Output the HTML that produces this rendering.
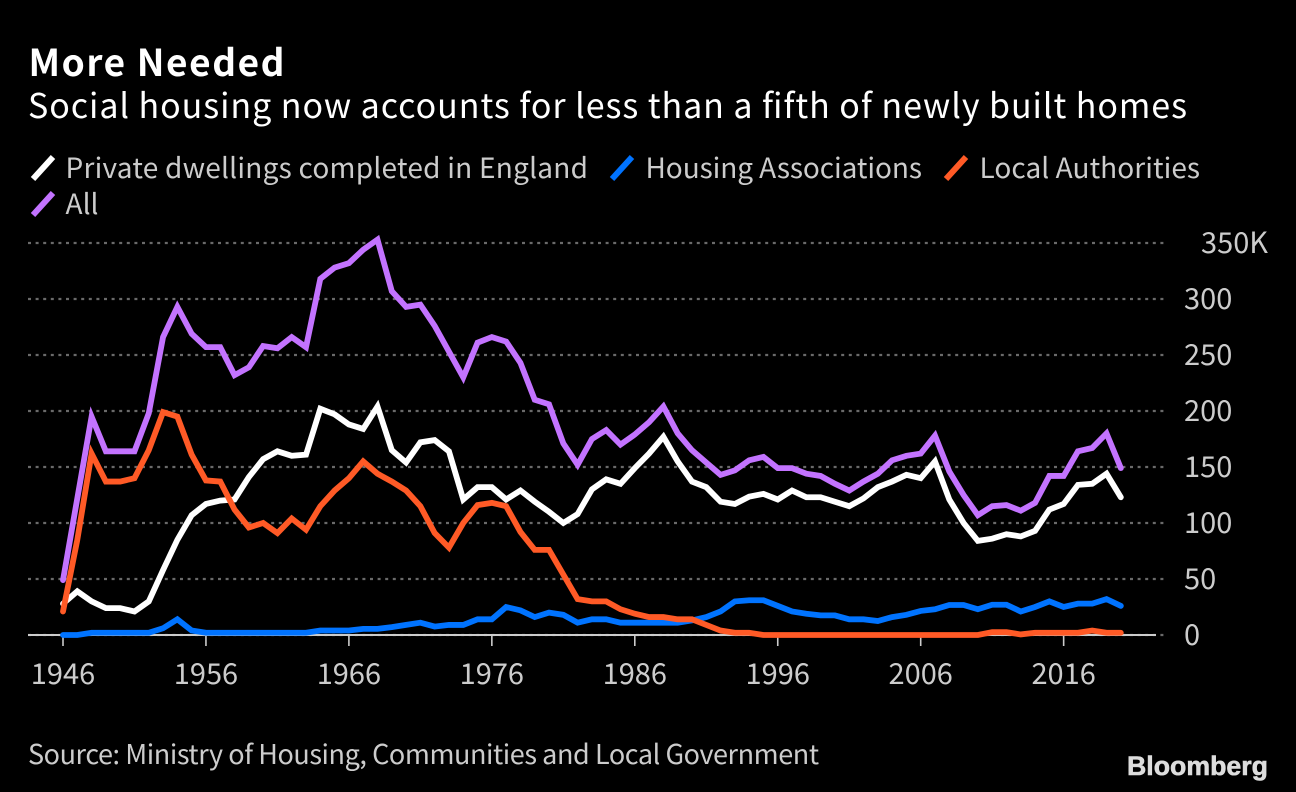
<!DOCTYPE html>
<html lang="en">
<head>
<meta charset="utf-8">
<title>More Needed</title>
<style>
html,body{margin:0;padding:0;background:#000;}
svg{display:block;}
text{font-family:"Noto Sans CJK JP","Liberation Sans",sans-serif;}
</style>
</head>
<body>
<svg id="chart" xmlns="http://www.w3.org/2000/svg" width="1296" height="792" viewBox="0 0 1296 792">
  <rect width="1296" height="792" fill="#000"/>
  <text x="28.5" y="76" font-size="37" font-weight="700" fill="#fff" textLength="256" lengthAdjust="spacing">More Needed</text>
  <text x="28" y="118" font-size="34" fill="#fff" textLength="1159" lengthAdjust="spacing">Social housing now accounts for less than a fifth of newly built homes</text>

  <g>
    <g>
      <line x1="33" y1="179" x2="53" y2="157" stroke="#fff" stroke-width="6"/>
      <text x="65.5" y="178" font-size="28" fill="#ccc" textLength="522.5" lengthAdjust="spacing">Private dwellings completed in England</text>
    </g>
    <g>
      <line x1="612" y1="179" x2="632" y2="157" stroke="#0073ff" stroke-width="6"/>
      <text x="645.5" y="178" font-size="28" fill="#ccc" textLength="276.5" lengthAdjust="spacing">Housing Associations</text>
    </g>
    <g>
      <line x1="946" y1="179" x2="966" y2="157" stroke="#ff5a26" stroke-width="6"/>
      <text x="979.5" y="178" font-size="28" fill="#ccc" textLength="220.5" lengthAdjust="spacing">Local Authorities</text>
    </g>
    <g>
      <line x1="33" y1="215" x2="53" y2="193" stroke="#c373ff" stroke-width="6"/>
      <text x="65.5" y="214" font-size="28" fill="#ccc" textLength="33" lengthAdjust="spacing">All</text>
    </g>
  </g>

  <g id="grid"></g>
  <g id="xaxis"></g>
  <g id="yaxis"></g>
  <g id="series"></g>

  <text x="28" y="764" font-size="27" fill="#ccc" textLength="791" lengthAdjust="spacing">Source: Ministry of Housing, Communities and Local Government</text>
  <text x="1127" y="775" font-size="27" font-weight="700" fill="#ddd" stroke="#ddd" stroke-width="0.6" textLength="141" lengthAdjust="spacingAndGlyphs" style="font-family:'Liberation Sans',sans-serif">Bloomberg</text>
</svg>

<script>
const firstYear = 1946;
const privateHomes = [28,39,30,24,24,21,30,58,85,107,117,120,121,141,157,164,160,161,202,197,188,184,204,165,154,172,174,164,121,132,132,121,129,119,110,100,108,130,139,135,149,162,177,155,137,132,119,117,123.5,126,121,129,123,123,119,115,122,132,137,143,140,155,121,100,84,86,90,88,93,112,117,134,135,144,123];
const housingAssociations = [0,0,2,2,2,2,2,6,14,4,2,2,2,2,2,2,2,2,4,4,4,5.5,5.5,7,9,11,7.5,9,9,14,14,25,22,16,20,18,11,14,14,11,11,11,11,11,13,16,21,30,31,31,26,21,19,17.5,17.5,14,14,12.5,16,18,21.5,23,26.8,26.8,23,27,27,21,25,30,25,28,28,32,26];
const localAuthorities = [21,85,162,137,137,140,165,199,195,161,138,137,112,96,100,91,104,94,115,129,140,155,144,137,129,115,91,78,100,116,118,115,92,76,76,54,32,30,30,23,19,16,16,14,14,9,4,2,2,0,0,0,0,0,0,0,0,0,0,0,0,0,0,0,0,2.5,2.5,0.5,2,2,2,2,4,2,2];
const allHomes = [49,122,195,164,164,164,198,266,293,269,257,257,232,239,258,256,266,257,318,328,332,344,353,307,293,295,276,253,230,261,266,262,243,210,206,171,152,175,183,170,179,190,204,180,165,154,143,147,156,159,149,149,144,142,135,129,137,144,156,160,162,178,146,125,107,115,116,111,118,142,142,164,167,180,149];
const yTicks = [0,50,100,150,200,250,300,350];
const yTickLabels = ["0","50","100","150","200","250","300","350K"];
const xTicks = [1946,1956,1966,1976,1986,1996,2006,2016];

const NS = "http://www.w3.org/2000/svg";
function xScale(year){ return 63 + (year - 1946) * 14.295; }
function yScale(value){ return 635 - value * 1.12; }
function make(tag, attrs, parent){
  const el = document.createElementNS(NS, tag);
  for (const k in attrs) el.setAttribute(k, attrs[k]);
  parent.appendChild(el);
  return el;
}

const grid = document.getElementById("grid");
const yaxis = document.getElementById("yaxis");
yTicks.forEach(function(t, i){
  const line = make("line", {x1:28, x2:1166, y1:yScale(t), y2:yScale(t), stroke:"#6a6a6a", "stroke-width":2.2, "stroke-dasharray":"3 4.6"}, grid);
  
  
  const label = make("text", {x: i === yTicks.length - 1 ? 1201 : 1184, y: yScale(t) + 10, "font-size":29, fill:"#ccc"}, yaxis);
  label.textContent = yTickLabels[i];
  
  
});

const xaxis = document.getElementById("xaxis");
const baseline = make("line", {x1:28, x2:1156, y1:yScale(0), y2:yScale(0), stroke:"#ccc", "stroke-width":2}, xaxis);


xTicks.forEach(function(y){
  const tick = make("line", {x1:xScale(y), x2:xScale(y), y1:yScale(0), y2:646, stroke:"#ccc", "stroke-width":1.6}, xaxis);
  
  
  const label = make("text", {x:xScale(y), y:684, "font-size":29, fill:"#ccc", "text-anchor":"middle"}, xaxis);
  label.textContent = String(y);
  
  
});

const seriesGroup = document.getElementById("series");
function drawSeries(values, colour, name){
  const d = values.map(function(v, i){
    return (i ? "L" : "M") + xScale(firstYear + i).toFixed(2) + " " + yScale(v).toFixed(2);
  }).join(" ");
  const path = make("path", {d:d, fill:"none", stroke:colour, "stroke-width":5.8, "stroke-linejoin":"miter", "stroke-miterlimit":4, "stroke-linecap":"round"}, seriesGroup);
  
  
}
drawSeries(privateHomes, "#ffffff", "line-private-dwellings");
drawSeries(housingAssociations, "#0073ff", "line-housing-associations");
drawSeries(localAuthorities, "#ff5a26", "line-local-authorities");
drawSeries(allHomes, "#c373ff", "line-all");
</script>
</body>
</html>
